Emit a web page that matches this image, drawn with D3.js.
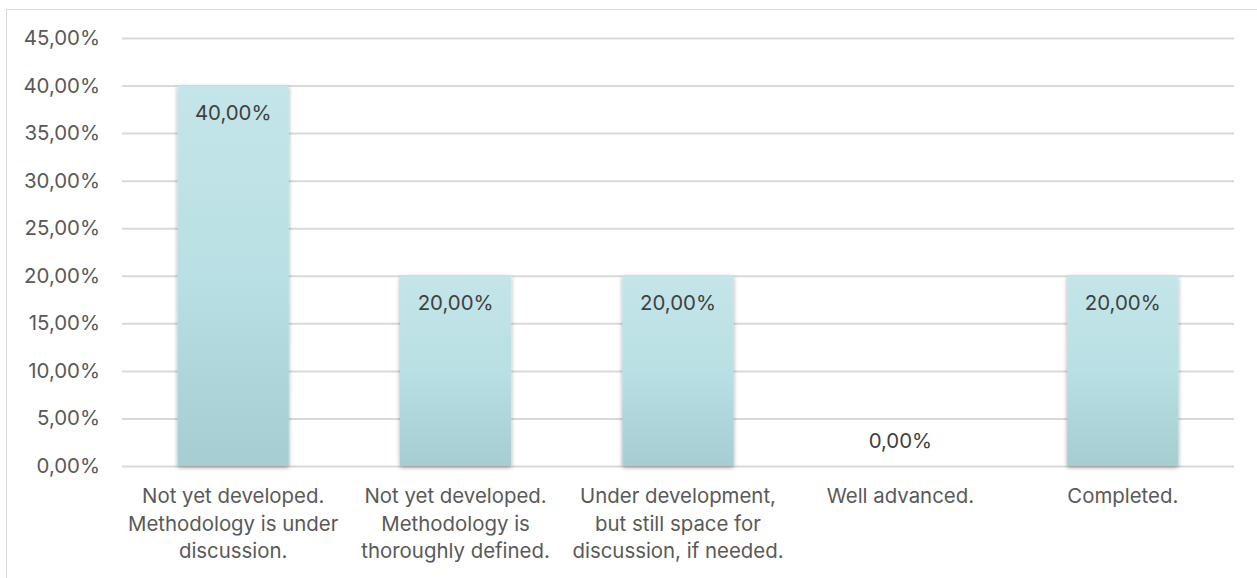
<!DOCTYPE html>
<html><head><meta charset="utf-8">
<script src="https://cdn.jsdelivr.net/npm/d3@7"></script>
<style>
html,body{margin:0;padding:0;background:#fff;}
svg{display:block;font-family:"Inter","Open Sans",sans-serif;}
</style></head>
<body>
<svg id="chart" width="1257" height="578"></svg>
<script>
const categories = [
  ["Not yet developed.", "Methodology is under", "discussion."],
  ["Not yet developed.", "Methodology is", "thoroughly defined."],
  ["Under development,", "but still space for", "discussion, if needed."],
  ["Well advanced."],
  ["Completed."]
];
const values = [0.40, 0.20, 0.20, 0.00, 0.20];
const yTicks = [0, 0.05, 0.10, 0.15, 0.20, 0.25, 0.30, 0.35, 0.40, 0.45];

const svg = d3.select("#chart");
const W = 1257, H = 578;
const m = {left: 122, right: 23, top: 38, bottom: 112};
const FS = "20.4px";

const fmt = v => (v*100).toFixed(2).replace(".", ",") + "%";

// border
svg.append("path").attr("d", `M6.5,${H} V9.5 H${W}`)
  .attr("fill","none").attr("stroke","#d9d9d9").attr("stroke-width",1);

const x = d3.scaleBand().domain(d3.range(categories.length))
  .range([m.left, W - m.right]).paddingInner(0.5).paddingOuter(0.25);
const y = d3.scaleLinear().domain([0, 0.45]).range([H - m.bottom, m.top]);

const defs = svg.append("defs");
const grad = defs.append("linearGradient").attr("id","barGrad")
  .attr("x1",0).attr("y1",0).attr("x2",0).attr("y2",1);
grad.append("stop").attr("offset","0%").attr("stop-color","#c4e5e9");
grad.append("stop").attr("offset","50%").attr("stop-color","#b9e0e4");
grad.append("stop").attr("offset","100%").attr("stop-color","#a5cdd2");
const f = defs.append("filter").attr("id","shadow").attr("x","-20%").attr("y","-10%").attr("width","140%").attr("height","120%");
f.append("feDropShadow").attr("dx",0).attr("dy",1.5).attr("stdDeviation",2.2)
  .attr("flood-color","#000").attr("flood-opacity",0.35);

// gridlines + y labels
const yAxis = d3.axisLeft(y).tickValues(yTicks).tickFormat(fmt)
  .tickSize(-(W - m.right - m.left)).tickPadding(22);
const gy = svg.append("g").attr("transform",`translate(${m.left},0)`).call(yAxis);
gy.select(".domain").remove();
gy.selectAll(".tick line").attr("stroke","#d9d9d9").attr("stroke-width",2);
gy.selectAll(".tick text").attr("fill","#595959").attr("font-size",FS)
  .attr("font-family","Inter,'Open Sans',sans-serif");

// bars
svg.append("g").selectAll("rect").data(values).join("rect")
  .attr("x",(d,i)=>x(i)).attr("width",x.bandwidth())
  .attr("y",d=>y(d)).attr("height",d=>y(0)-y(d))
  .attr("fill","url(#barGrad)").attr("filter","url(#shadow)");

// data labels
svg.append("g").selectAll("text").data(values).join("text")
  .attr("x",(d,i)=>x(i)+x.bandwidth()/2)
  .attr("y",d=> d>0 ? y(d)+34 : y(d)-18)
  .attr("text-anchor","middle").attr("fill","#404040").attr("font-size",FS)
  .text(d=>fmt(d));

// category labels
const gx = svg.append("g");
categories.forEach((lines,i)=>{
  const t = gx.append("text").attr("text-anchor","middle")
    .attr("fill","#595959").attr("font-size",FS);
  lines.forEach((ln,j)=>{
    t.append("tspan").attr("x",x(i)+x.bandwidth()/2)
      .attr("y",y(0)+37+j*27.5).text(ln);
  });
});
</script>
</body></html>
